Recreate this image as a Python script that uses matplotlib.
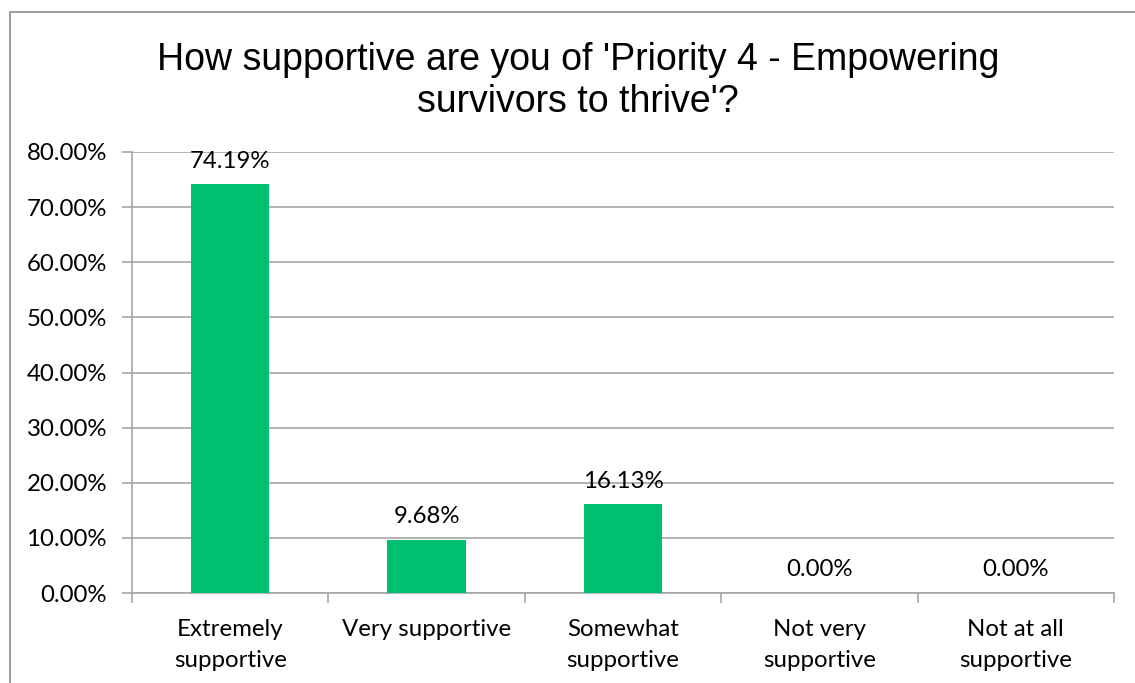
import matplotlib.pyplot as plt
from matplotlib.patches import Rectangle
from matplotlib.ticker import FuncFormatter, FixedLocator

categories = ["Extremely\nsupportive", "Very supportive", "Somewhat\nsupportive",
              "Not very\nsupportive", "Not at all\nsupportive"]
values = [74.19, 9.68, 16.13, 0.00, 0.00]
y_ticks = [0, 10, 20, 30, 40, 50, 60, 70, 80]
title = "How supportive are you of 'Priority 4 - Empowering\nsurvivors to thrive'?"

bar_color = "#00BF6F"
grid_color = "#a6a6a6"
body_font = ["Lato", "DejaVu Sans"]
body_size = 17.3

fig = plt.figure(figsize=(11.35, 6.83), dpi=100)

# outer chart frame
fig.patches.append(Rectangle((10 / 1135, -0.1), 1.2, 1.1 - 12 / 683,
                             transform=fig.transFigure, fill=False,
                             edgecolor="#8c8c8c", linewidth=1.2))

ax = fig.add_axes([132 / 1135, 1 - 593 / 683, (1114 - 132) / 1135, (593 - 152) / 683])

x = list(range(len(categories)))
bars = ax.bar(x, values, width=0.4, color=bar_color, zorder=3)

for rect, v in zip(bars, values):
    ax.annotate(f"{v:.2f}%", (rect.get_x() + rect.get_width() / 2, v),
                xytext=(0, 9), textcoords="offset points",
                ha="center", va="bottom", fontsize=body_size, family=body_font)

ax.set_xlim(-0.5, 4.5)
ax.set_ylim(0, 80)
ax.set_yticks(y_ticks)
ax.yaxis.set_major_formatter(FuncFormatter(lambda v, p: f"{v:.2f}%"))
ax.grid(axis="y", color=grid_color, linewidth=1.2, zorder=0)

ax.set_xticks(x)
ax.set_xticklabels(categories, fontsize=body_size, family=body_font, linespacing=1.55)
ax.xaxis.set_minor_locator(FixedLocator([i - 0.5 for i in range(len(categories) + 1)]))
ax.tick_params(axis="x", which="major", length=0, pad=19)
ax.tick_params(axis="x", which="minor", length=7, width=1.2, color=grid_color, direction="out")
ax.tick_params(axis="y", length=7, width=1.2, color=grid_color, pad=11)
for lbl in ax.get_yticklabels():
    lbl.set_fontsize(body_size)
    lbl.set_family(body_font)

for side in ["top", "right"]:
    ax.spines[side].set_visible(False)
for side in ["left", "bottom"]:
    ax.spines[side].set_color(grid_color)
    ax.spines[side].set_linewidth(1.2)

fig.text(0.509, 1 - 81 / 683, title, ha="center", va="center",
         fontsize=27, family="Liberation Sans", linespacing=1.22)

fig.savefig("out.png", dpi=100)
